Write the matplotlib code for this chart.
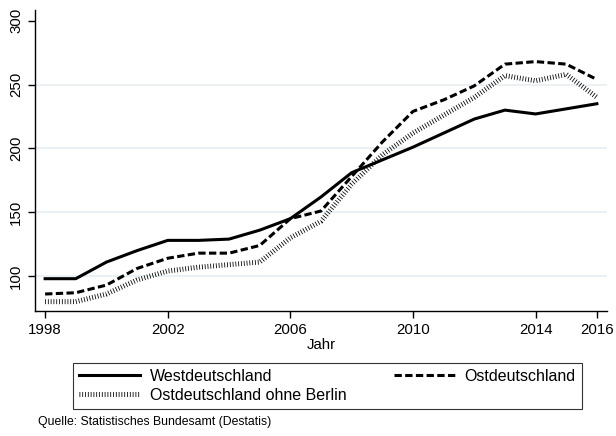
import matplotlib
matplotlib.use("Agg")
import matplotlib.pyplot as plt

plt.rcParams['font.family'] = ['Liberation Sans', 'DejaVu Sans']

# Daten (Index)
jahre = list(range(1998, 2017))
west = [98, 98, 111, 120, 128, 128, 129, 136, 145, 162, 181, 191, 201, 212, 223, 230, 227, 231, 235]
ost = [86, 87, 93, 106, 114, 118, 118, 124, 145, 151, 178, 205, 229, 238, 249, 266, 268, 266, 254]
ost_ohne_berlin = [80, 80, 86, 97, 104, 107, 109, 111, 130, 143, 172, 195, 212, 226, 240, 257, 253, 258, 240]

x_ticks = [1998, 2002, 2006, 2010, 2014, 2016]
y_ticks = [100, 150, 200, 250, 300]

fig = plt.figure(figsize=(6.16, 4.36), dpi=100)
ax = fig.add_axes([35/616, 1 - 311/436, 572/616, 301/436])

l1, = ax.plot(jahre, west, color="black", lw=2.2, label="Westdeutschland")
l2, = ax.plot(jahre, ost, color="black", lw=2.2, linestyle=(0, (2.4, 1.1)),
              dash_capstyle="butt", label="Ostdeutschland")
l3, = ax.plot(jahre, ost_ohne_berlin, color="black", lw=3.6, linestyle=(0, (0.16, 0.4)),
              dash_capstyle="butt", label="Ostdeutschland ohne Berlin")

ax.set_xlim(1997.67, 2016.33)
ax.set_ylim(72.7, 308.4)
ax.set_xticks(x_ticks)
ax.set_yticks(y_ticks)
ax.tick_params(labelsize=10.8, length=5, width=1, color="black")
for lab in ax.get_yticklabels():
    lab.set_rotation(90)
    lab.set_va("center")

ax.grid(axis="y", color="#e6eef2", lw=1.2)
ax.get_ygridlines()[-1].set_visible(False)
ax.set_axisbelow(True)

for s in ["top", "right"]:
    ax.spines[s].set_visible(False)
for s in ["left", "bottom"]:
    ax.spines[s].set_linewidth(1)

ax.set_xlabel("Jahr", fontsize=10.8, labelpad=1)

leg = fig.legend(handles=[l1, l3, l2], ncol=2, mode="expand",
                 bbox_to_anchor=(73/616, 1 - 408/436, 509/616, 44/436),
                 loc="center", fontsize=11.5, frameon=True, fancybox=False,
                 edgecolor="black", handlelength=3.8, handletextpad=0.6,
                 borderpad=0.4, labelspacing=0.25, borderaxespad=0)
leg.get_frame().set_linewidth(0.8)

fig.text(38/616, 1 - 422/436, "Quelle: Statistisches Bundesamt (Destatis)",
         fontsize=8.8, va="center", ha="left")

fig.savefig("out.png", dpi=100)
